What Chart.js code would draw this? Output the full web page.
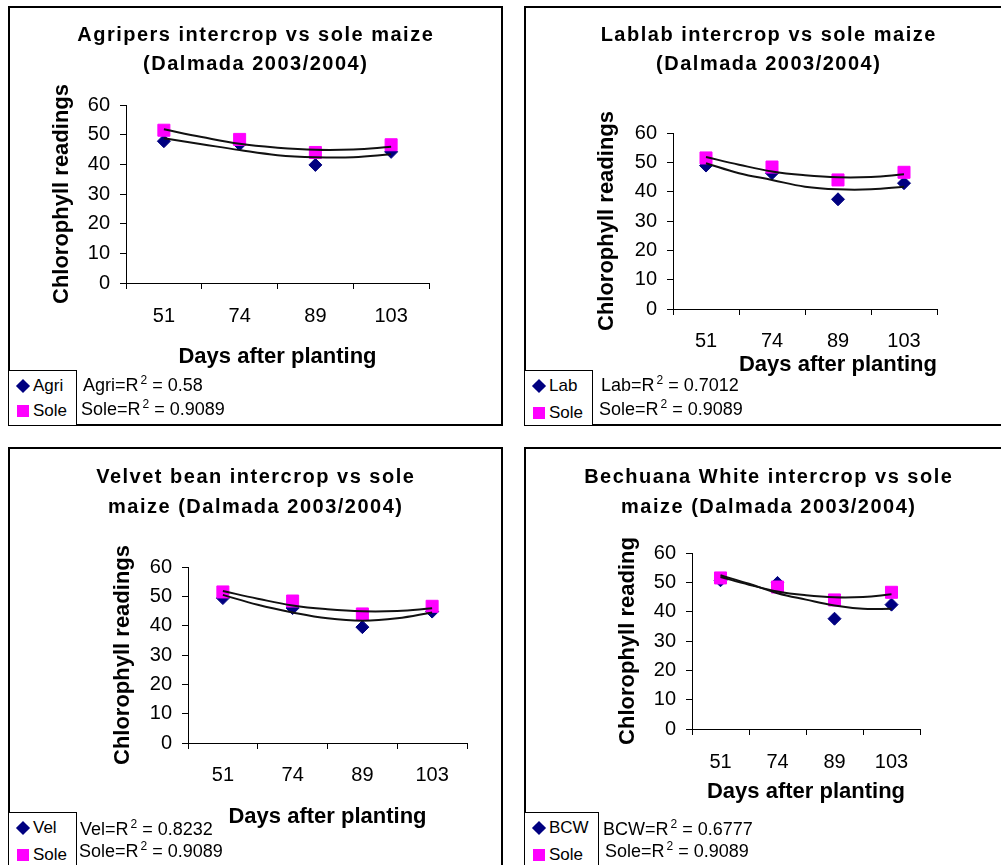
<!DOCTYPE html>
<html>
<head>
<meta charset="utf-8">
<title>Chlorophyll readings - intercrop vs sole maize</title>
<script src="https://cdn.jsdelivr.net/npm/chart.js@4.4.1/dist/chart.umd.min.js"></script>
<style>
    body { margin: 0; background: #fff; width: 1001px; height: 865px; overflow: hidden; position: relative;
           font-family: Arial, "Liberation Sans", sans-serif; color: #000; }
    .panel { position: absolute; width: 495px; height: 420px; box-sizing: border-box; border: 2px solid #000; }
    .panel .wrap { position: absolute; left: -2px; top: -2px; width: 495px; height: 420px; }
    .panel canvas { position: absolute; left: 0; top: 0; }
    .legend { position: absolute; box-sizing: border-box; border: 1px solid #000; background: #fff; }
    .txt { position: absolute; font-size: 17px; line-height: 20px; white-space: nowrap; transform: translateY(-50%); }
    .txt.r2 { font-size: 18px; }
    .txt sup { font-size: 12px; vertical-align: 0; position: relative; top: -7px; margin-left: 2px; }
    .mk { position: absolute; }
    .mk.rectRot { width: 10px; height: 10px; transform: translate(-50%, -50%) rotate(45deg); }
    .mk.rect { width: 12px; height: 12px; transform: translate(-50%, -50%); }
</style>
</head>
<body>
<div class="panel" id="p1" style="left:8px;top:6px"><div class="wrap"><canvas id="c1" width="495" height="420"></canvas></div></div>
<div class="panel" id="p2" style="left:524px;top:6px"><div class="wrap"><canvas id="c2" width="495" height="420"></canvas></div></div>
<div class="panel" id="p3" style="left:8px;top:447px"><div class="wrap"><canvas id="c3" width="495" height="420"></canvas></div></div>
<div class="panel" id="p4" style="left:524px;top:447px"><div class="wrap"><canvas id="c4" width="495" height="420"></canvas></div></div>
<script>
// Donnees (lectures de chlorophylle)
const days = ['51', '74', '89', '103'];
const trendX = [1, 1.5, 2, 2.5, 3, 3.5, 4];   // positions des courbes de tendance (1 = 51 j, 4 = 103 j)

const soleValues = [51.5, 48.4, 44.0, 46.6];
const soleTrend = [51.8, 49.2, 46.9, 45.6, 44.9, 45.0, 45.9];

const agriValues = [47.8, 46.8, 39.8, 44.2];
const agriTrend = [48.8, 46.8, 44.8, 43.1, 42.4, 42.4, 43.4];

const labValues = [48.9, 46.3, 37.4, 42.9];
const labTrend = [49.7, 46.3, 44.0, 41.7, 40.8, 40.8, 41.7];

const velValues = [49.4, 46.0, 39.5, 44.8];
const velTrend = [50.5, 47.1, 44.5, 42.5, 41.7, 42.5, 44.5];

const bcwValues = [50.7, 49.8, 37.6, 42.4];
const bcwTrend = [52.4, 49.5, 46.3, 44.1, 42.1, 41.0, 41.0];

const yMin = 0;
const yMax = 60;
const yStep = 10;

const r2Sole = '0.9089';
const r2Agri = '0.58';
const r2Lab = '0.7012';
const r2Vel = '0.8232';
const r2Bcw = '0.6777';

const xAxisTitle = 'Days after planting';

// Styles communs
const FONT = 'Arial, "Liberation Sans", sans-serif';
Chart.defaults.font.family = FONT;
Chart.defaults.color = '#000';

const colors = {
    intercrop: '#000080',
    sole: '#ff00ff',
    trend: '#111111'
};

// Titre centre avec espacement des lettres (comme l'original)
const spacedTitle = {
    id: 'spacedTitle',
    afterDraw(chart, args, opts) {
        const ctx = chart.ctx;
        ctx.save();
        ctx.font = 'bold 20px ' + FONT;
        ctx.fillStyle = '#000';
        ctx.textAlign = 'center';
        ctx.textBaseline = 'middle';
        if ('letterSpacing' in ctx) ctx.letterSpacing = opts.spacing + 'px';
        opts.lines.forEach((line, i) => {
            ctx.fillText(line, opts.x + opts.spacing / 2, opts.top + i * opts.lineHeight);
        });
        ctx.restore();
    }
};

function pointSet(label, values, style, color, radius, order) {
    return {
        type: 'line',
        label: label,
        data: values,
        showLine: false,
        pointStyle: style,
        pointRadius: radius,
        pointHoverRadius: radius,
        pointBackgroundColor: color,
        pointBorderColor: color,
        pointBorderWidth: 1,
        backgroundColor: color,
        borderColor: color,
        xAxisID: 'x',
        order: order,
        inLegend: true
    };
}

function trendSet(label, values) {
    return {
        type: 'line',
        label: label,
        data: trendX.map((x, i) => ({ x: x, y: values[i] })),
        borderColor: colors.trend,
        borderWidth: 2,
        pointRadius: 0,
        tension: 0.4,
        fill: false,
        xAxisID: 'x2',
        order: 0,
        inLegend: false
    };
}

function makePanel(p) {
    const W = 495, H = 420;
    const a = p.area;
    const tickLen = 6;
    const tickFont = 20, tickLH = tickFont * 1.2;
    const titleFont = 22, titleLH = titleFont * 1.2;
    const xAxisH = p.xTitleY + titleLH / 2 + 1 - a.bottom;

    const config = {
        type: 'line',
        data: {
            labels: days,
            datasets: [
                trendSet(p.name + ' trend', p.trend),
                trendSet('Sole trend', soleTrend),
                pointSet('Sole', soleValues, 'rect', colors.sole, 8.5, 1),
                pointSet(p.name, p.values, 'rectRot', colors.intercrop, 6.5, 2)
            ]
        },
        options: {
            responsive: false,
            animation: false,
            events: [],
            layout: {
                padding: { left: 0, top: a.top, right: W - a.right, bottom: H - a.bottom - xAxisH }
            },
            plugins: {
                legend: { display: false },
                tooltip: { enabled: false },
                title: { display: false },
                spacedTitle: { lines: p.title, x: p.titleX, top: p.titleTop, lineHeight: p.titleLH, spacing: 1.5 }
            },
            scales: {
                x: {
                    type: 'category',
                    offset: true,
                    grid: { offset: true, drawOnChartArea: false, drawTicks: true, tickLength: tickLen, color: '#000' },
                    border: { display: true, color: '#000', width: 1 },
                    ticks: { font: { size: tickFont }, padding: p.xTickY - a.bottom - tickLen - tickLH / 2, maxRotation: 0, autoSkip: false },
                    title: { display: true, text: xAxisTitle, align: p.xTitleAlign, font: { size: titleFont, weight: 'bold' }, padding: { top: 0, bottom: 1 } },
                    afterFit: s => { s.height = xAxisH; }
                },
                x2: {
                    type: 'linear',
                    display: false,
                    min: 0.5,
                    max: 4.5
                },
                y: {
                    min: yMin,
                    max: yMax,
                    ticks: { stepSize: yStep, font: { size: tickFont }, padding: 10 },
                    grid: { drawOnChartArea: false, drawTicks: true, tickLength: tickLen, color: '#000' },
                    border: { display: true, color: '#000', width: 1 },
                    title: { display: true, text: p.yTitle, font: { size: titleFont, weight: 'bold' }, padding: { top: p.yTitleX - titleLH / 2, bottom: 0 } },
                    afterFit: s => { s.width = a.left; }
                }
            }
        },
        plugins: [spacedTitle]
    };

    const chart = new Chart(document.getElementById(p.canvas), config);

    // Legende HTML (encadree en bas a gauche) a partir des jeux de donnees
    const wrap = document.getElementById(p.panel).querySelector('.wrap');
    const box = document.createElement('div');
    box.className = 'legend';
    box.style.left = p.legend.left + 'px';
    box.style.top = p.legend.top + 'px';
    box.style.width = p.legend.width + 'px';
    box.style.height = (H - p.legend.top) + 'px';
    wrap.appendChild(box);

    const items = chart.data.datasets.filter(d => d.inLegend).reverse();
    items.forEach((d, i) => {
        const y = p.legend.rows[i];
        const mk = document.createElement('div');
        mk.className = 'mk ' + d.pointStyle;
        mk.style.background = d.backgroundColor;
        mk.style.left = p.legend.markerX + 'px';
        mk.style.top = y + 'px';
        wrap.appendChild(mk);
        const t = document.createElement('div');
        t.className = 'txt';
        t.textContent = d.label;
        t.style.left = p.legend.textX + 'px';
        t.style.top = y + 'px';
        wrap.appendChild(t);
    });

    // Coefficients R2
    const r2 = [[p.name, p.r2], ['Sole', r2Sole]];
    r2.forEach(([name, val], i) => {
        const t = document.createElement('div');
        t.className = 'txt r2';
        t.innerHTML = name + '=R<sup>2</sup> = ' + val;
        t.style.left = p.r2Pos[i][0] + 'px';
        t.style.top = p.r2Pos[i][1] + 'px';
        wrap.appendChild(t);
    });
    return chart;
}

makePanel({
    panel: 'p1', canvas: 'c1', name: 'Agri', values: agriValues, trend: agriTrend, r2: r2Agri,
    title: ['Agripers intercrop vs sole maize', '(Dalmada 2003/2004)'],
    yTitle: 'Chlorophyll readings',
    area: { left: 118, top: 99, right: 421, bottom: 277 },
    titleX: 247, titleTop: 29, titleLH: 29,
    xTickY: 310, xTitleY: 351, xTitleAlign: 'center', yTitleX: 54,
    legend: { left: 0, top: 364, width: 69, rows: [380, 405], markerX: 15, textX: 25 },
    r2Pos: [[75, 380], [73, 404]]
});

makePanel({
    panel: 'p2', canvas: 'c2', name: 'Lab', values: labValues, trend: labTrend, r2: r2Lab,
    title: ['Lablab intercrop vs sole maize', '(Dalmada 2003/2004)'],
    yTitle: 'Chlorophyll readings',
    area: { left: 149, top: 127, right: 413, bottom: 303 },
    titleX: 244, titleTop: 29, titleLH: 29,
    xTickY: 335, xTitleY: 359, xTitleAlign: 'end', yTitleX: 83,
    legend: { left: 0, top: 364, width: 69, rows: [380, 407], markerX: 15, textX: 25 },
    r2Pos: [[77, 380], [75, 404]]
});

makePanel({
    panel: 'p3', canvas: 'c3', name: 'Vel', values: velValues, trend: velTrend, r2: r2Vel,
    title: ['Velvet bean intercrop vs sole', 'maize (Dalmada 2003/2004)'],
    yTitle: 'Chlorophyll readings',
    area: { left: 180, top: 120, right: 459, bottom: 296 },
    titleX: 247, titleTop: 30, titleLH: 30,
    xTickY: 328, xTitleY: 370, xTitleAlign: 'center', yTitleX: 115,
    legend: { left: 0, top: 365, width: 69, rows: [381, 408], markerX: 15, textX: 25 },
    r2Pos: [[72, 383], [71, 405]]
});

makePanel({
    panel: 'p4', canvas: 'c4', name: 'BCW', values: bcwValues, trend: bcwTrend, r2: r2Bcw,
    title: ['Bechuana White intercrop vs sole', 'maize (Dalmada 2003/2004)'],
    yTitle: 'Chlorophyll reading',
    area: { left: 168, top: 106, right: 396, bottom: 282 },
    titleX: 244, titleTop: 30, titleLH: 30,
    xTickY: 315, xTitleY: 345, xTitleAlign: 'center', yTitleX: 104,
    legend: { left: 0, top: 365, width: 75, rows: [381, 408], markerX: 15, textX: 25 },
    r2Pos: [[79, 383], [81, 405]]
});
</script>
</body>
</html>
